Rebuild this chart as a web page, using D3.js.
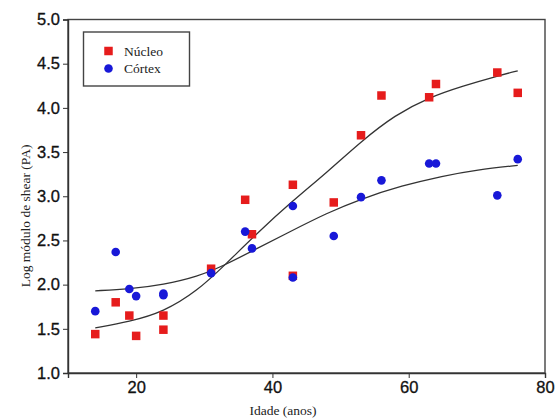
<!DOCTYPE html>
<html>
<head>
<meta charset="utf-8">
<script src="https://cdn.jsdelivr.net/npm/d3@7"></script>
<style>
  body { margin: 0; background: #fff; }
  svg { display: block; }
</style>
</head>
<body>
<svg id="chart"></svg>
<script>
'use strict';

// ages (x) and log shear modulus (y)
const nucleoAge = [14, 17, 19, 20, 24, 24, 31, 36, 37, 43, 43, 49, 53, 56, 63, 64, 73, 76];
const nucleoVal = [1.44, 1.80, 1.65, 1.42, 1.65, 1.49, 2.18, 2.96, 2.57, 3.13, 2.10, 2.93, 3.69, 4.14, 4.12, 4.27, 4.40, 4.17];

const cortexAge = [14, 17, 19, 20, 24, 24, 31, 36, 37, 43, 43, 49, 53, 56, 63, 64, 73, 76];
const cortexVal = [1.70, 2.37, 1.95, 1.87, 1.90, 1.88, 2.13, 2.60, 2.41, 2.89, 2.08, 2.55, 2.99, 3.18, 3.37, 3.37, 3.01, 3.42];

// fitted curves
const nucleoFitAge = [14, 19, 24, 29, 33, 38, 43, 48, 53, 58, 63, 68, 73, 76];
const nucleoFitVal = [1.51, 1.58, 1.69, 1.93, 2.22, 2.60, 2.95, 3.27, 3.62, 3.92, 4.12, 4.25, 4.36, 4.42];

const cortexFitAge = [14, 19, 24, 29, 33, 37, 42.6, 48, 53, 59, 65, 70, 76];
const cortexFitVal = [1.93, 1.95, 2.00, 2.09, 2.22, 2.38, 2.60, 2.81, 2.97, 3.12, 3.23, 3.30, 3.35];

const xTicks = [20, 40, 60, 80];
const yTicks = [1.0, 1.5, 2.0, 2.5, 3.0, 3.5, 4.0, 4.5, 5.0];

const legendLabels = ['Núcleo', 'Córtex'];

const W = 556, H = 420;
const margin = { top: 19.5, right: 11, bottom: 47, left: 68 };
const width = W - margin.left - margin.right;
const height = H - margin.top - margin.bottom;

const svg = d3.select('#chart')
    .attr('width', W)
    .attr('height', H);

const g = svg.append('g')
    .attr('transform', `translate(${margin.left}, ${margin.top})`);

const x = d3.scaleLinear()
    .domain([10, 80])
    .range([0, width]);

const y = d3.scaleLinear()
    .domain([1, 5])
    .range([height, 0]);

// frame
g.append('rect')
    .attr('width', width)
    .attr('height', height)
    .attr('fill', 'none')
    .attr('stroke', '#444')
    .attr('stroke-width', 1.4);

const xAxis = d3.axisBottom(x)
    .tickValues(xTicks)
    .tickFormat(d3.format('d'))
    .tickSize(5)
    .tickPadding(3);

const yAxis = d3.axisLeft(y)
    .tickValues(yTicks)
    .tickFormat(d3.format('.1f'))
    .tickSize(5)
    .tickPadding(3);

g.append('g')
    .attr('class', 'x-axis')
    .attr('transform', `translate(0, ${height})`)
    .call(xAxis);

g.append('g')
    .attr('class', 'y-axis')
    .call(yAxis);

g.selectAll('.domain')
    .attr('stroke', '#333')
    .attr('stroke-width', 1.4);

g.selectAll('.tick line')
    .attr('stroke', '#333');

g.selectAll('.tick text')
    .attr('fill', '#111')
    .attr('stroke', '#111')
    .attr('stroke-width', 0.3)
    .style('font-family', '"Liberation Sans", Arial, sans-serif')
    .style('font-size', '16.5px');

// fitted lines
const line = d3.line()
    .x(d => x(d[0]))
    .y(d => y(d[1]))
    .curve(d3.curveBasis);

g.append('path')
    .datum(d3.zip(nucleoFitAge, nucleoFitVal))
    .attr('fill', 'none')
    .attr('stroke', '#333')
    .attr('stroke-width', 1.3)
    .attr('d', line);

g.append('path')
    .datum(d3.zip(cortexFitAge, cortexFitVal))
    .attr('fill', 'none')
    .attr('stroke', '#333')
    .attr('stroke-width', 1.3)
    .attr('d', line);

// points
const red = '#e61c1c';
const blue = '#1818d8';
const sq = 8.5;

g.append('g')
    .attr('fill', red)
    .selectAll('rect')
    .data(d3.zip(nucleoAge, nucleoVal))
  .enter().append('rect')
    .attr('x', d => x(d[0]) - sq / 2)
    .attr('y', d => y(d[1]) - sq / 2)
    .attr('width', sq)
    .attr('height', sq);

g.append('g')
    .attr('fill', blue)
    .selectAll('circle')
    .data(d3.zip(cortexAge, cortexVal))
  .enter().append('circle')
    .attr('cx', d => x(d[0]))
    .attr('cy', d => y(d[1]))
    .attr('r', 4.3);

// legend
const legend = svg.append('g')
    .attr('transform', 'translate(83.5, 32)');

legend.append('rect')
    .attr('width', 106)
    .attr('height', 54)
    .attr('fill', '#fff')
    .attr('stroke', '#444')
    .attr('stroke-width', 1.4);

legend.append('rect')
    .attr('x', 25 - sq / 2)
    .attr('y', 19 - sq / 2)
    .attr('width', sq)
    .attr('height', sq)
    .attr('fill', red);

legend.append('circle')
    .attr('cx', 25)
    .attr('cy', 36.5)
    .attr('r', 4.3)
    .attr('fill', blue);

legend.selectAll('text')
    .data(legendLabels)
  .enter().append('text')
    .attr('x', 40.5)
    .attr('y', (d, i) => 23.5 + i * 17.5)
    .attr('fill', '#222')
    .style('font-family', '"Liberation Serif", "Times New Roman", serif')
    .style('font-size', '13.5px')
    .text(d => d);

// axis titles
svg.append('text')
    .attr('x', 283)
    .attr('y', 415)
    .attr('text-anchor', 'middle')
    .attr('fill', '#222')
    .style('font-family', '"Liberation Serif", "Times New Roman", serif')
    .style('font-size', '13.5px')
    .text('Idade (anos)');

svg.append('text')
    .attr('transform', 'translate(30, 216) rotate(-90)')
    .attr('text-anchor', 'middle')
    .attr('fill', '#222')
    .style('font-family', '"Liberation Serif", "Times New Roman", serif')
    .style('font-size', '13.5px')
    .text('Log módulo de shear (PA)');
</script>
</body>
</html>
